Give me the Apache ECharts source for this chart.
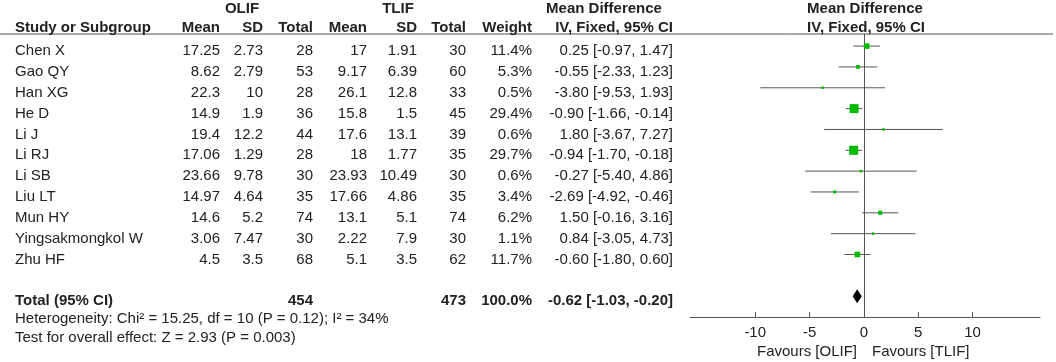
<!DOCTYPE html>
<html>
<head>
<meta charset="utf-8">
<script src="https://cdn.jsdelivr.net/npm/echarts@6/dist/echarts.min.js"></script>
<style>
html,body{margin:0;padding:0;background:#fff;}
#forest{width:1056px;height:362px;}
</style>
</head>
<body>
<div id="forest"></div>
<script>
// study data
var studies = ['Chen X','Gao QY','Han XG','He D','Li J','Li RJ','Li SB','Liu LT','Mun HY','Yingsakmongkol W','Zhu HF'];
var olifMean = [17.25, 8.62, 22.3, 14.9, 19.4, 17.06, 23.66, 14.97, 14.6, 3.06, 4.5];
var olifSD = [2.73, 2.79, 10, 1.9, 12.2, 1.29, 9.78, 4.64, 5.2, 7.47, 3.5];
var olifN = [28, 53, 28, 36, 44, 28, 30, 35, 74, 30, 68];
var tlifMean = [17, 9.17, 26.1, 15.8, 17.6, 18, 23.93, 17.66, 13.1, 2.22, 5.1];
var tlifSD = [1.91, 6.39, 12.8, 1.5, 13.1, 1.77, 10.49, 4.86, 5.1, 7.9, 3.5];
var tlifN = [30, 60, 33, 45, 39, 35, 30, 35, 74, 30, 62];
var weight = [11.4, 5.3, 0.5, 29.4, 0.6, 29.7, 0.6, 3.4, 6.2, 1.1, 11.7];
var md = [0.25, -0.55, -3.80, -0.90, 1.80, -0.94, -0.27, -2.69, 1.50, 0.84, -0.60];
var ciLow = [-0.97, -2.33, -9.53, -1.66, -3.67, -1.70, -5.40, -4.92, -0.16, -3.05, -1.80];
var ciHigh = [1.47, 1.23, 1.93, -0.14, 7.27, -0.18, 4.86, -0.46, 3.16, 4.73, 0.60];
// pooled
var totalOlifN = 454;
var totalTlifN = 473;
var totalWeight = 100.0;
var totalMd = -0.62, totalLow = -1.03, totalHigh = -0.20;
var totalRow = 12;
var xTicks = [-10, -5, 0, 5, 10];

var FONT = '"Liberation Sans", Arial, sans-serif';
var TXT = '#222';
var forest = echarts.init(document.getElementById('forest'));

function ciText(m, l, h){
    return m.toFixed(2) + ' [' + l.toFixed(2) + ', ' + h.toFixed(2) + ']';
}
function txt(x, y, s, align, bold){
    return {type:'text', style:{x:x, y:y, text:s, textAlign:align, textVerticalAlign:'middle',
        fontSize:15, fontFamily:FONT, fontWeight:bold?'bold':'normal', fill:TXT}};
}

var rowData = [];
for(var i=0;i<studies.length;i++){
    rowData.push([md[i], i, ciLow[i], ciHigh[i], weight[i]]);
}
var tableData = rowData.concat([[totalMd, totalRow]]);

var option = {
    animation: false,
    grid: {left: 690, right: 16, top: 34, bottom: 45},
    xAxis: {
        type: 'value', min: -16, max: 16.2,
        axisLine: {onZero: false, lineStyle: {color: '#555', width: 1}},
        axisTick: {inside: true, length: 5, customValues: xTicks, lineStyle: {color: '#555'}},
        axisLabel: {customValues: xTicks, color: TXT, fontSize: 15, fontFamily: FONT, margin: 8},
        splitLine: {show: false}
    },
    yAxis: {
        type: 'value', inverse: true, min: -0.58, max: 13,
        axisLine: {show: true, onZero: true, lineStyle: {color: '#555', width: 1}},
        axisTick: {show: false}, axisLabel: {show: false}, splitLine: {show: false}
    },
    graphic: [
        {type:'line', shape:{x1:0, y1:34, x2:1053, y2:34}, style:{stroke:'#555', lineWidth:1}},
        txt(242, 9, 'OLIF', 'center', true),
        txt(398, 9, 'TLIF', 'center', true),
        txt(604, 9, 'Mean Difference', 'center', true),
        txt(865, 9, 'Mean Difference', 'center', true),
        txt(15, 28, 'Study or Subgroup', 'left', true),
        txt(220, 28, 'Mean', 'right', true),
        txt(263, 28, 'SD', 'right', true),
        txt(313, 28, 'Total', 'right', true),
        txt(367, 28, 'Mean', 'right', true),
        txt(417, 28, 'SD', 'right', true),
        txt(466, 28, 'Total', 'right', true),
        txt(532, 28, 'Weight', 'right', true),
        txt(673, 28, 'IV, Fixed, 95% CI', 'right', true),
        txt(866, 28, 'IV, Fixed, 95% CI', 'center', true),
        txt(15, 319, 'Heterogeneity: Chi\u00b2 = 15.25, df = 10 (P = 0.12); I\u00b2 = 34%', 'left', false),
        txt(15, 338, 'Test for overall effect: Z = 2.93 (P = 0.003)', 'left', false),
        txt(857, 352, 'Favours [OLIF]', 'right', false),
        txt(872, 352, 'Favours [TLIF]', 'left', false)
    ],
    series: [
        {   // table text rows
            type: 'custom', silent: true, clip: false,
            encode: {x: 0, y: 1},
            data: tableData,
            renderItem: function(params, api){
                var i = params.dataIndex;
                var y = api.coord([0, api.value(1)])[1] + 5;
                if(i >= studies.length){
                    return {type:'group', children:[
                        txt(15, y, 'Total (95% CI)', 'left', true),
                        txt(313, y, String(totalOlifN), 'right', true),
                        txt(466, y, String(totalTlifN), 'right', true),
                        txt(532, y, totalWeight.toFixed(1) + '%', 'right', true),
                        txt(673, y, ciText(totalMd, totalLow, totalHigh), 'right', true)
                    ]};
                }
                return {type:'group', children:[
                    txt(15, y, studies[i], 'left'),
                    txt(220, y, String(olifMean[i]), 'right'),
                    txt(263, y, String(olifSD[i]), 'right'),
                    txt(313, y, String(olifN[i]), 'right'),
                    txt(367, y, String(tlifMean[i]), 'right'),
                    txt(417, y, String(tlifSD[i]), 'right'),
                    txt(466, y, String(tlifN[i]), 'right'),
                    txt(532, y, weight[i].toFixed(1) + '%', 'right'),
                    txt(673, y, ciText(md[i], ciLow[i], ciHigh[i]), 'right')
                ]};
            }
        },
        {   // confidence interval lines
            type: 'custom', silent: true,
            encode: {x: 0, y: 1},
            data: rowData,
            renderItem: function(params, api){
                var a = api.coord([api.value(2), api.value(1)]);
                var b = api.coord([api.value(3), api.value(1)]);
                return {type:'line', shape:{x1:a[0], y1:a[1], x2:b[0], y2:b[1]},
                    style:{stroke:'#555', lineWidth:1}};
            }
        },
        {   // study effect squares
            type: 'scatter', silent: true,
            symbol: 'rect',
            data: rowData,
            symbolSize: function(v){ return Math.max(2.5, 9 * Math.sqrt(v[4] / 29.7)); },
            itemStyle: {color: '#00bb00', opacity: 1},
            z: 5
        },
        {   // pooled diamond
            type: 'custom', silent: true,
            encode: {x: 0, y: 1},
            data: [[totalMd, totalRow, totalLow, totalHigh]],
            renderItem: function(params, api){
                var c = api.coord([api.value(0), api.value(1)]);
                var l = api.coord([api.value(2), api.value(1)]);
                var r = api.coord([api.value(3), api.value(1)]);
                var h = 7;
                return {type:'polygon', shape:{points:[[l[0], c[1]], [c[0], c[1]-h], [r[0], c[1]], [c[0], c[1]+h]]},
                    style:{fill:'#000'}};
            }
        }
    ]
};
forest.setOption(option);
</script>
</body>
</html>
